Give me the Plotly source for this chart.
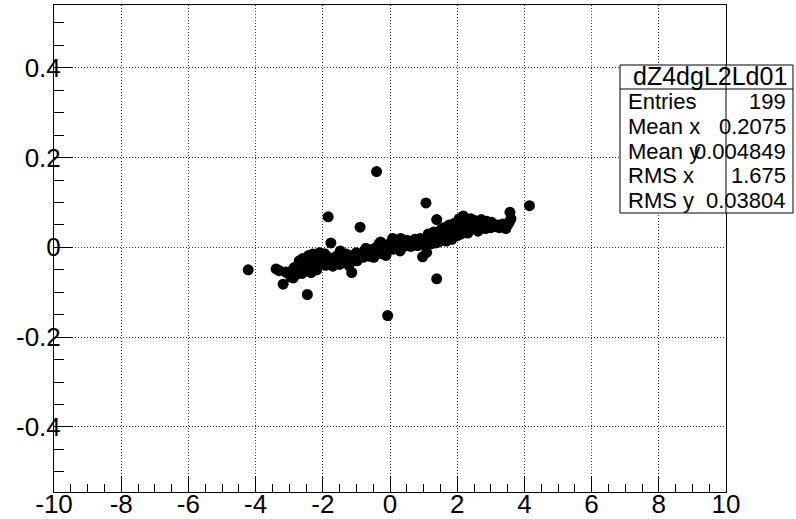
import plotly.graph_objects as go

# ---- data ----
x_vals = [
    -3.39, -3.30, -3.18, -3.10, -3.02, -2.95, -2.90, -2.85, -2.80, -2.75,
    -2.70, -2.66, -2.60, -2.55, -2.50, -2.46, -2.45, -2.40, -2.35, -2.30,
    -2.25, -2.20, -2.15, -2.10, -2.05,
    -1.98, -1.92, -1.88, -1.84, -1.80, -1.76, -1.72, -1.66, -1.60, -1.55,
    -1.50, -1.45, -1.40, -1.35, -1.30, -1.25, -1.20, -1.14, -1.10, -1.05,
    -1.00, -0.95, -0.89, -0.85, -0.80, -0.75, -0.70, -0.65, -0.60, -0.55,
    -0.50, -0.45, -0.40, -0.38, -0.33, -0.30, -0.25, -0.20, -0.15, -0.10,
    -0.07, -0.05, -0.02,
    0.02, 0.06, 0.10, 0.14, 0.18, 0.22, 0.26, 0.30, 0.34, 0.38,
    0.42, 0.46, 0.50, 0.54, 0.58, 0.62, 0.66, 0.70, 0.74, 0.78,
    0.82, 0.86, 0.90, 0.94, 0.97, 1.00, 1.04, 1.07, 1.09, 1.12,
    1.16, 1.20, 1.24, 1.28, 1.32, 1.36, 1.39, 1.39, 1.42, 1.46,
    1.50, 1.54, 1.58, 1.62, 1.66, 1.70, 1.74, 1.78, 1.82, 1.86,
    1.90, 1.94, 1.98,
    2.02, 2.05, 2.08, 2.11, 2.14, 2.17, 2.20, 2.23, 2.26, 2.30,
    2.34, 2.38, 2.42, 2.46, 2.50, 2.55, 2.60, 2.65, 2.70, 2.75,
    2.80, 2.85, 2.90, 2.95, 3.00, 3.05, 3.10, 3.15, 3.20, 3.25,
    3.30, 3.35, 3.40, 3.45, 3.50, 3.55, 3.57, 3.60, 4.15, -4.22,
    1.05, 1.14, 1.22, 1.30, 1.44, 1.52, 1.60, 1.68, 1.76, 1.84,
    1.92, 2.00, 2.06, 2.12, 2.18, 2.24, 2.32, 2.40, 2.52, 2.62,
    2.72, 2.88, 3.02,
    -2.88, -2.62, -2.42, -2.18, -1.95, -1.70, -1.48, -1.22, -0.98, -0.72,
    -0.48, -0.28, -0.12, 0.08, 0.32,
]
y_vals = [
    -0.048, -0.052, -0.082, -0.055, -0.058, -0.066, -0.050, -0.045, -0.060, -0.052,
    -0.030, -0.048, -0.025, -0.045, -0.028, -0.105, -0.040, -0.032, -0.056, -0.015,
    -0.038, -0.030, -0.042, -0.012, -0.035,
    -0.028, -0.040, -0.020, 0.068, -0.032, 0.010, -0.025, -0.036, -0.020, -0.030,
    -0.038, -0.018, -0.026, -0.032, -0.015, -0.022, -0.030, -0.056, -0.018, -0.025,
    -0.012, -0.020, 0.045, -0.015, -0.022, -0.008, -0.016, -0.010, -0.020, -0.005,
    -0.012, -0.002, 0.169, -0.010, 0.008, -0.004, -0.014, 0.000, -0.008, 0.004,
    -0.152, -0.006, 0.008,
    0.002, 0.012, -0.004, 0.006, 0.014, 0.000, 0.010, -0.008, 0.004, 0.012,
    0.002, 0.008, 0.016, 0.006, 0.010, 0.002, 0.014, 0.008, 0.018, 0.010,
    0.004, 0.014, 0.020, 0.012, -0.021, 0.008, 0.018, 0.099, -0.011, 0.024,
    0.012, 0.020, 0.030, 0.016, 0.024, 0.010, 0.062, -0.070, 0.028, 0.020,
    0.034, 0.024, 0.016, 0.030, 0.038, 0.022, 0.032, 0.042, 0.026, 0.036,
    0.046, 0.030, 0.040,
    0.050, 0.034, 0.044, 0.056, 0.040, 0.062, 0.048, 0.036, 0.052, 0.044,
    0.058, 0.040, 0.050, 0.054, 0.042, 0.048, 0.056, 0.044, 0.050, 0.046,
    0.054, 0.042, 0.050, 0.048, 0.044, 0.052, 0.048, 0.046, 0.050, 0.044,
    0.048, 0.052, 0.046, 0.042, 0.050, 0.056, 0.078, 0.064, 0.093, -0.050,
    0.004, 0.030, 0.008, 0.034, 0.012, 0.040, 0.044, 0.014, 0.050, 0.018,
    0.054, 0.026, 0.064, 0.030, 0.070, 0.060, 0.032, 0.064, 0.060, 0.036,
    0.062, 0.058, 0.056,
    -0.068, -0.058, -0.018, -0.050, -0.014, -0.042, -0.008, -0.040, -0.030, -0.002,
    -0.022, 0.012, -0.018, 0.020, 0.020,
]

x_ticks = [-10, -8, -6, -4, -2, 0, 2, 4, 6, 8, 10]
y_ticks = [-0.4, -0.2, 0, 0.2, 0.4]
y_tick_text = ["-0.4", "-0.2", "0", "0.2", "0.4"]

stats_title = "dZ4dgL2Ld01"
stats_labels = ["Entries", "Mean x", "Mean y", "RMS x", "RMS y"]
stats_values = ["199", "0.2075", "0.004849", "1.675", "0.03804"]

# ---- layout geometry (pixels) ----
W, H = 796, 519
L, R, T, B = 54, 726, 5, 492

def px2paper_x(px):
    return (px - L) / (R - L)

def px2paper_y(py):
    return (B - py) / (B - T)

FONT = "Liberation Sans, Arial, Helvetica, sans-serif"

fig = go.Figure()
fig.add_trace(go.Scatter(
    x=x_vals, y=y_vals, mode="markers",
    marker=dict(color="black", size=11, line=dict(width=0)),
    showlegend=False, hoverinfo="skip",
))

axis_common = dict(
    showline=True, linecolor="black", linewidth=1, mirror=True,
    showgrid=True, gridcolor="#333333", gridwidth=1, griddash="1px,2px",
    zeroline=False, ticks="inside", tickcolor="black", tickwidth=1,
    automargin=False,
    tickfont=dict(family=FONT, size=26, color="black"),
)

fig.update_xaxes(
    range=[-10, 10], tickmode="array", tickvals=x_ticks,
    ticktext=[str(v) for v in x_ticks], ticklen=16, ticklabelstandoff=-11,
    minor=dict(dtick=0.5, tick0=0, ticks="inside", ticklen=8,
               tickcolor="black", tickwidth=1, showgrid=False),
    **axis_common,
)
fig.update_yaxes(
    range=[-0.545, 0.540], tickmode="array", tickvals=y_ticks,
    ticktext=y_tick_text, ticklen=19, ticklabelstandoff=-13,
    minor=dict(dtick=0.05, tick0=0, ticks="inside", ticklen=10,
               tickcolor="black", tickwidth=1, showgrid=False),
    **axis_common,
)

# stats box
bx0, bx1 = 620, 793
by0, bsep, by1 = 65, 89, 213
shapes = [
    dict(type="rect", xref="paper", yref="paper",
         x0=px2paper_x(bx0), x1=px2paper_x(bx1),
         y0=px2paper_y(by1), y1=px2paper_y(by0),
         fillcolor="white", line=dict(color="black", width=1), layer="above"),
    dict(type="line", xref="paper", yref="paper",
         x0=px2paper_x(bx0), x1=px2paper_x(bx1),
         y0=px2paper_y(bsep), y1=px2paper_y(bsep),
         line=dict(color="black", width=1), layer="above"),
    dict(type="line", xref="paper", yref="paper",
         x0=1, x1=1, y0=px2paper_y(by1), y1=px2paper_y(by0),
         line=dict(color="black", width=1), layer="above"),
]
annotations = [
    dict(text=stats_title, xref="paper", yref="paper",
         x=px2paper_x((bx0 + bx1) / 2 + 3), y=px2paper_y((by0 + bsep) / 2 - 1),
         xanchor="center", yanchor="middle", showarrow=False,
         font=dict(family=FONT, size=25, color="black")),
]
row_h = (by1 - bsep) / len(stats_labels)
for i, (lab, val) in enumerate(zip(stats_labels, stats_values)):
    yc = bsep + row_h * (i + 0.5)
    annotations.append(dict(text=lab, xref="paper", yref="paper",
        x=px2paper_x(bx0 + 6), y=px2paper_y(yc), xanchor="left", yanchor="middle",
        showarrow=False, font=dict(family=FONT, size=22, color="black")))
    annotations.append(dict(text=val, xref="paper", yref="paper",
        x=px2paper_x(bx1 - 5), y=px2paper_y(yc), xanchor="right", yanchor="middle",
        showarrow=False, font=dict(family=FONT, size=22, color="black")))

fig.update_layout(
    template="none",
    width=W, height=H,
    margin=dict(l=L, r=W - R, t=T, b=H - B, pad=0),
    paper_bgcolor="white", plot_bgcolor="white",
    shapes=shapes, annotations=annotations,
    showlegend=False,
)

fig.write_html("out.html")
